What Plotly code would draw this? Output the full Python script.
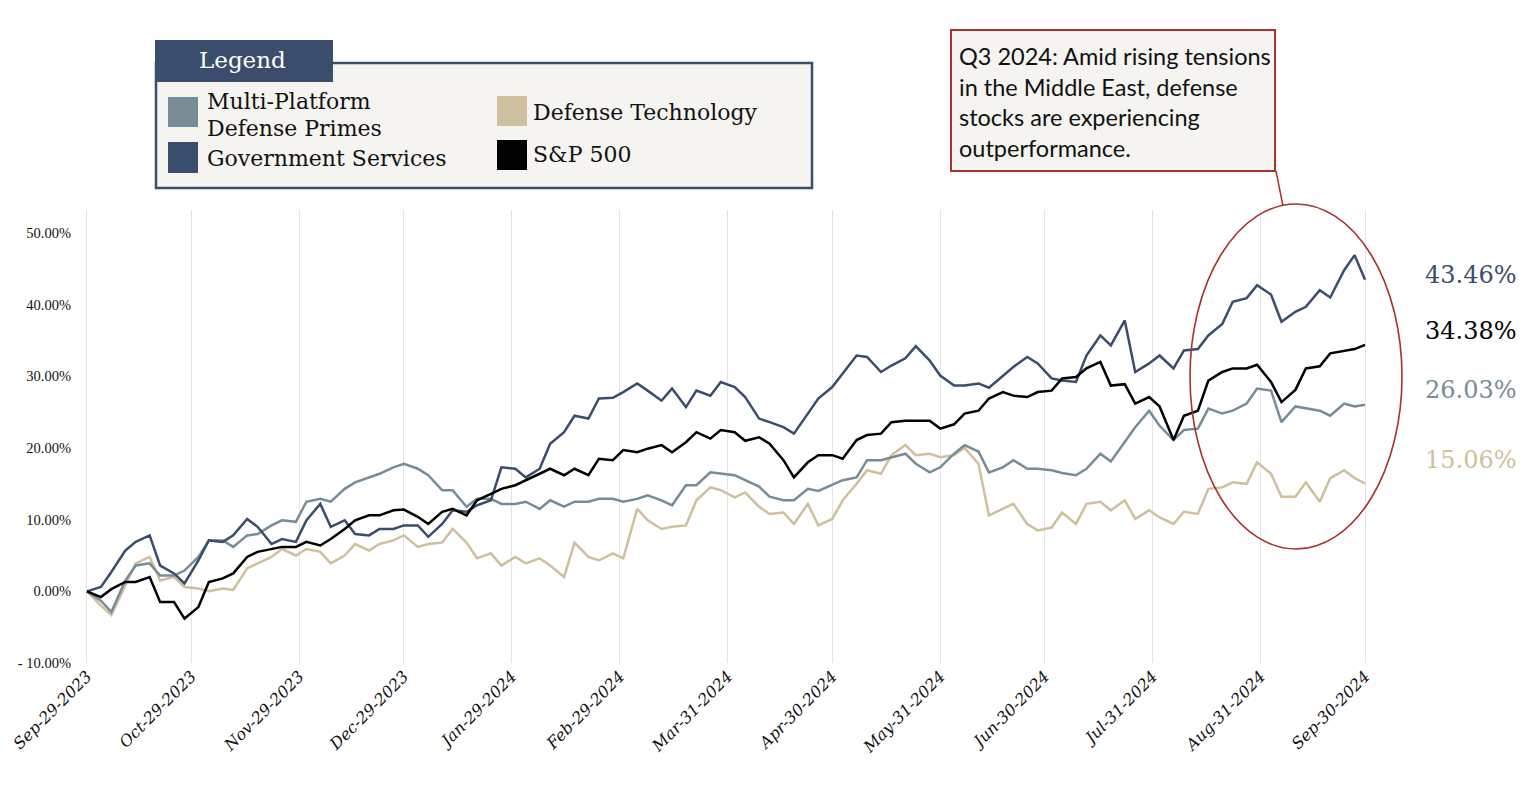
import plotly.graph_objects as go

dates = [
    "2023-09-29", "2023-10-03", "2023-10-06", "2023-10-10", "2023-10-13", "2023-10-17", "2023-10-20",
    "2023-10-24", "2023-10-27", "2023-10-31",
    "2023-11-03", "2023-11-07", "2023-11-10", "2023-11-14", "2023-11-17", "2023-11-21", "2023-11-24", "2023-11-28",
    "2023-12-01", "2023-12-05", "2023-12-08", "2023-12-12", "2023-12-15", "2023-12-19", "2023-12-22", "2023-12-26",
    "2023-12-29",
    "2024-01-02", "2024-01-05", "2024-01-09", "2024-01-12", "2024-01-16", "2024-01-19", "2024-01-23", "2024-01-26",
    "2024-01-30",
    "2024-02-02", "2024-02-06", "2024-02-09", "2024-02-13", "2024-02-16", "2024-02-20", "2024-02-23", "2024-02-27",
    "2024-03-01", "2024-03-05", "2024-03-08", "2024-03-12", "2024-03-15", "2024-03-19", "2024-03-22", "2024-03-26",
    "2024-03-29",
    "2024-04-02", "2024-04-05", "2024-04-09", "2024-04-12", "2024-04-16", "2024-04-19", "2024-04-23", "2024-04-26",
    "2024-04-30",
    "2024-05-03", "2024-05-07", "2024-05-10", "2024-05-14", "2024-05-17", "2024-05-21", "2024-05-24", "2024-05-28",
    "2024-05-31",
    "2024-06-04", "2024-06-07", "2024-06-11", "2024-06-14", "2024-06-18", "2024-06-21", "2024-06-25", "2024-06-28",
    "2024-07-02", "2024-07-05", "2024-07-09", "2024-07-12", "2024-07-16", "2024-07-19", "2024-07-23", "2024-07-26",
    "2024-07-30",
    "2024-08-02", "2024-08-06", "2024-08-09", "2024-08-13", "2024-08-16", "2024-08-20", "2024-08-23", "2024-08-27",
    "2024-08-30",
    "2024-09-03", "2024-09-06", "2024-09-10", "2024-09-13", "2024-09-17", "2024-09-20", "2024-09-24", "2024-09-27",
    "2024-09-30",
]

government_services = [
    0, 0.6, 2.7, 5.7, 6.9, 7.8, 3.6, 2.5, 1.1, 4.3,
    7.1, 6.9, 7.8, 10.1, 9.0, 6.6, 7.3, 6.9,
    9.9, 12.2, 9.0, 9.9, 8.0, 7.8, 8.7, 8.7, 9.2,
    9.2, 7.6, 9.4, 11.3, 11.1, 12.0, 12.7, 17.3, 17.1,
    15.9, 17.1, 20.6, 22.2, 24.5, 24.1, 26.9, 27.0,
    27.8, 29.0, 28.0, 26.6, 28.3, 25.7, 28.0, 27.3, 29.2,
    28.5, 27.1, 24.1, 23.6, 22.9, 22.0, 24.8, 26.9, 28.5,
    30.4, 32.9, 32.7, 30.6, 31.5, 32.5, 34.2, 32.2, 30.1,
    28.7, 28.7, 29.0, 28.4, 30.1, 31.3, 32.7, 31.8,
    29.7, 29.4, 29.2, 32.9, 35.7, 34.3, 37.8, 30.6, 31.8,
    32.9, 31.1, 33.6, 33.8, 35.7, 37.3, 40.4, 40.9, 42.7,
    41.4, 37.6, 39.0, 39.7, 42.0, 41.0, 44.8, 46.9, 43.46,
]

multi_platform = [
    0, -1.3, -2.9, 1.5, 3.6, 3.9, 2.2, 2.2, 2.9, 4.8,
    7.1, 7.1, 6.2, 7.8, 8.0, 9.2, 9.9, 9.7,
    12.5, 12.9, 12.5, 14.3, 15.2, 15.9, 16.4, 17.3, 17.8,
    17.1, 16.2, 14.1, 14.1, 11.8, 12.9, 12.9, 12.2, 12.2,
    12.5, 11.5, 12.7, 11.8, 12.5, 12.5, 12.9, 12.9,
    12.5, 12.9, 13.4, 12.7, 12.0, 14.8, 14.8, 16.6, 16.4,
    16.2, 15.5, 14.6, 13.2, 12.7, 12.7, 14.3, 14.0, 14.8,
    15.5, 15.9, 18.3, 18.3, 18.7, 19.2, 17.8, 16.6, 17.3,
    19.2, 20.4, 19.5, 16.6, 17.3, 18.3, 17.1, 17.1,
    16.9, 16.5, 16.2, 17.1, 19.2, 18.1, 20.8, 22.9, 25.2,
    23.1, 21.1, 22.5, 22.7, 25.5, 24.8, 25.2, 26.2, 28.3,
    28.0, 23.6, 25.8, 25.5, 25.2, 24.5, 26.2, 25.8, 26.03,
]

sp500 = [
    0, -0.8, 0.3, 1.3, 1.3, 2.0, -1.5, -1.5, -3.8, -2.2,
    1.3, 1.8, 2.5, 4.8, 5.5, 5.9, 6.2, 6.2,
    6.9, 6.4, 7.3, 8.7, 9.9, 10.6, 10.6, 11.3, 11.4,
    10.4, 9.4, 11.1, 11.5, 10.6, 12.7, 13.6, 14.3, 14.8,
    15.5, 16.4, 17.1, 16.2, 17.1, 16.2, 18.5, 18.3,
    19.7, 19.4, 19.9, 20.4, 19.4, 20.8, 22.2, 21.3, 22.5,
    22.2, 21.0, 21.5, 20.6, 18.3, 15.9, 18.0, 19.0, 19.0,
    18.5, 21.1, 21.8, 22.0, 23.6, 23.8, 23.8, 23.8, 22.7,
    23.3, 24.8, 25.2, 26.9, 27.8, 27.3, 27.1, 27.8,
    28.0, 29.7, 29.9, 31.1, 32.0, 28.7, 28.9, 26.2, 27.1,
    25.8, 21.1, 24.5, 25.2, 29.4, 30.6, 31.1, 31.1, 31.6,
    29.2, 26.4, 28.1, 31.1, 31.4, 33.2, 33.6, 33.8, 34.38,
]

defense_technology = [
    0, -2.0, -3.3, 0.8, 3.9, 4.8, 1.5, 2.0, 0.6, 0.4,
    0.0, 0.4, 0.2, 3.2, 3.9, 4.8, 5.9, 5.0,
    5.9, 5.5, 3.9, 5.0, 6.6, 5.7, 6.6, 7.1, 7.8,
    6.2, 6.6, 6.8, 8.7, 6.8, 4.6, 5.3, 3.6, 4.8,
    3.9, 4.6, 3.6, 2.0, 6.8, 4.8, 4.3, 5.3,
    4.6, 11.5, 9.9, 8.7, 9.0, 9.2, 12.7, 14.5, 14.1,
    13.1, 13.8, 11.8, 10.8, 11.0, 9.4, 12.2, 9.2, 10.1,
    12.7, 15.0, 16.9, 16.4, 19.0, 20.4, 19.0, 19.2, 18.7,
    19.0, 20.0, 17.8, 10.6, 11.5, 12.2, 9.4, 8.5,
    8.9, 11.0, 9.4, 12.2, 12.5, 11.3, 12.7, 10.1, 11.3,
    10.3, 9.4, 11.1, 10.8, 14.3, 14.5, 15.2, 15.0, 18.0,
    16.4, 13.2, 13.2, 15.2, 12.5, 15.8, 16.9, 15.8, 15.06,
]

tick_dates = ["2023-09-29", "2023-10-29", "2023-11-29", "2023-12-29", "2024-01-29", "2024-02-29",
              "2024-03-31", "2024-04-30", "2024-05-31", "2024-06-30", "2024-07-31", "2024-08-31",
              "2024-09-30"]
tick_labels = ["Sep-29-2023", "Oct-29-2023", "Nov-29-2023", "Dec-29-2023", "Jan-29-2024", "Feb-29-2024",
               "Mar-31-2024", "Apr-30-2024", "May-31-2024", "Jun-30-2024", "Jul-31-2024", "Aug-31-2024",
               "Sep-30-2024"]
y_tickvals = [-10, 0, 10, 20, 30, 40, 50]
y_ticktext = ["- 10.00%", "0.00%", "10.00%", "20.00%", "30.00%", "40.00%", "50.00%"]

series_names = ["Defense Technology", "Multi-Platform Defense Primes", "Government Services", "S&P 500"]
series_values = [defense_technology, multi_platform, government_services, sp500]
end_labels = ["15.06%", "26.03%", "43.46%", "34.38%"]

C_GOV = "#3b4d6c"
C_MP = "#778c96"
C_DT = "#cfc09d"
C_SP = "#000000"
colors = [C_DT, C_MP, C_GOV, C_SP]

# page body adds an 8px margin; build figure so that it lands on the target pixels
OFF = 8
W, H = 1530 - OFF, 796 - OFF
# plot area in target-page pixels
PL, PR, PT, PB = 80, 1380, 210, 663
L, R, T, B = PL - OFF, PR - OFF, PT - OFF, PB - OFF


def px(x):
    return (x - PL) / (PR - PL)


def py(y):
    return (PB - y) / (PB - PT)


fig = go.Figure()
for name, vals, col in zip(series_names, series_values, colors):
    fig.add_trace(go.Scatter(x=dates, y=vals, mode="lines", name=name,
                             line=dict(color=col, width=2.5), showlegend=False))

shapes = []
annotations = []

# Legend box
LEG_BG = "#f5f4f0"
shapes.append(dict(type="rect", xref="paper", yref="paper", x0=px(156), x1=px(812), y0=py(188), y1=py(63),
                   line=dict(color=C_GOV, width=2.5), fillcolor=LEG_BG, layer="above"))
shapes.append(dict(type="rect", xref="paper", yref="paper", x0=px(155), x1=px(333), y0=py(82), y1=py(40),
                   line=dict(width=0), fillcolor=C_GOV, layer="above"))
annotations.append(dict(xref="paper", yref="paper", x=px(243), y=py(60), text="Legend", showarrow=False,
                        font=dict(family="DejaVu Serif", size=23, color="white"), xanchor="center", yanchor="middle"))

legend_items = [
    (C_MP, (168, 97, 198, 127), [("Multi-Platform", 205, 102), ("Defense Primes", 205, 129)]),
    (C_GOV, (168, 142, 198, 173), [("Government Services", 205, 158)]),
    (C_DT, (497, 96, 527, 126), [("Defense Technology", 531, 112)]),
    (C_SP, (497, 140, 527, 170), [("S&P 500", 531, 154)]),
]
for col, (x0, y0, x1, y1), texts in legend_items:
    shapes.append(dict(type="rect", xref="paper", yref="paper", x0=px(x0), x1=px(x1), y0=py(y1), y1=py(y0),
                       line=dict(width=0), fillcolor=col, layer="above"))
    for txt, tx, ty in texts:
        annotations.append(dict(xref="paper", yref="paper", x=px(tx), y=py(ty), text=txt, showarrow=False,
                                font=dict(family="DejaVu Serif", size=22, color="#111111"),
                                xanchor="left", yanchor="middle"))

# Callout box
RED = "#a8322d"
shapes.append(dict(type="rect", xref="paper", yref="paper", x0=px(951), x1=px(1275), y0=py(171), y1=py(30),
                   line=dict(color=RED, width=2), fillcolor=LEG_BG, layer="above"))
callout_lines = ["Q3 2024: Amid rising tensions", "in the Middle East, defense",
                 "stocks are experiencing", "outperformance."]
for i, line in enumerate(callout_lines):
    annotations.append(dict(xref="paper", yref="paper", x=px(957), y=py(56 + i * 30.7), text=line,
                            showarrow=False, font=dict(family="Lato", size=23.5, color="#111111"),
                            xanchor="left", yanchor="middle"))
shapes.append(dict(type="line", xref="paper", yref="paper", x0=px(1276), y0=py(171), x1=px(1283), y1=py(206),
                   line=dict(color=RED, width=1.5)))
shapes.append(dict(type="circle", xref="paper", yref="paper", x0=px(1190), x1=px(1402), y0=py(549), y1=py(204),
                   line=dict(color=RED, width=1.6), fillcolor="rgba(0,0,0,0)"))

# End labels
end_pos = {"43.46%": (275, C_GOV), "34.38%": (331, C_SP), "26.03%": (390, C_MP), "15.06%": (460, C_DT)}
for lab in end_labels:
    yy, col = end_pos[lab]
    annotations.append(dict(xref="paper", yref="paper", x=px(1423), y=py(yy), text=lab, showarrow=False,
                            font=dict(family="DejaVu Serif", size=24, color=col),
                            xanchor="left", yanchor="middle"))

fig.update_layout(
    width=W, height=H,
    margin=dict(l=L, r=W - R, t=T, b=H - B, autoexpand=False),
    paper_bgcolor="white", plot_bgcolor="white",
    shapes=shapes, annotations=annotations,
    showlegend=False,
)
fig.update_xaxes(
    type="date", range=["2023-09-27", "2024-10-04 07:00"],
    tickvals=tick_dates, ticktext=tick_labels, tickangle=-45,
    tickfont=dict(family="DejaVu Serif", size=16, color="#111111", style="italic"),
    showgrid=True, gridcolor="#e4e4e4", gridwidth=1, zeroline=False, showline=False, ticks="",
)
fig.update_yaxes(
    range=[-10, 53.2], tickvals=y_tickvals, ticktext=y_ticktext,
    tickfont=dict(family="Liberation Serif", size=14.5, color="#111111"),
    showgrid=False, zeroline=False, showline=False, ticks="", ticklabelstandoff=8,
)

fig.write_html("out.html")
